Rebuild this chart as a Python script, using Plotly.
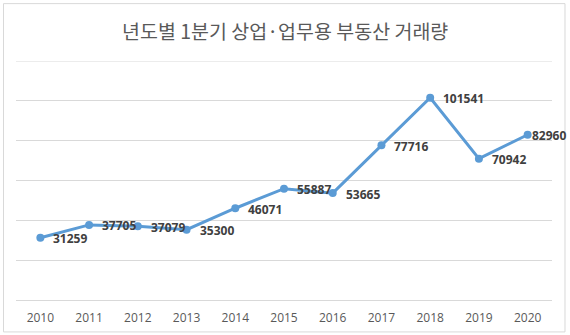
import plotly.graph_objects as go

years = ["2010", "2011", "2012", "2013", "2014", "2015", "2016", "2017", "2018", "2019", "2020"]
volumes = [31259, 37705, 37079, 35300, 46071, 55887, 53665, 77716, 101541, 70942, 82960]
title_text = "년도별 1분기 상업·업무용 부동산 거래량"

W, H = 570, 335
L, R, T, B = 15.5, 18, 60.5, 35
pw, ph = W - L - R, H - T - B
Y_MAX, Y_STEP = 120000, 20000

def px_x(px):
    return (px - L) / pw

def px_y(py):
    return (H - B - py) / ph

color = "#5B9BD5"
grid = "#d9d9d9"
fig = go.Figure()
fig.add_trace(go.Scatter(
    x=list(range(len(years))), y=volumes, mode="lines+markers",
    line=dict(color=color, width=3),
    marker=dict(color=color, size=8),
    hoverinfo="skip", cliponaxis=False,
))

n = len(years)
for i, (yr, v) in enumerate(zip(years, volumes)):
    last = i == n - 1
    fig.add_annotation(
        x=i, y=v, xref="x", yref="y", text=str(v), showarrow=False,
        xanchor="left", yanchor="middle", xshift=2 if last else 11, yshift=-1,
        font=dict(family="Open Sans", size=12, color="#404040", weight="bold"),
    )

fig.add_annotation(
    x=px_x(285), y=px_y(30), xref="paper", yref="paper", text=title_text,
    showarrow=False, xanchor="center", yanchor="middle",
    font=dict(family="Noto Sans CJK KR", size=19.5, color="#595959"),
)

fig.add_shape(type="rect", xref="paper", yref="paper",
              x0=px_x(3), x1=px_x(565), y0=px_y(332), y1=px_y(3),
              line=dict(color=grid, width=1), fillcolor="rgba(0,0,0,0)", layer="below")
# top gridline at the axis maximum (plotly omits the gridline at the range edge)
fig.add_shape(type="line", xref="paper", yref="y", x0=0, x1=1, y0=Y_MAX, y1=Y_MAX,
              line=dict(color=grid, width=1), layer="below")

fig.update_layout(
    width=W, height=H, margin=dict(l=L, r=R, t=T, b=B, autoexpand=False),
    paper_bgcolor="white", plot_bgcolor="white", showlegend=False,
)
fig.update_xaxes(
    range=[-0.5, n - 0.5], tickmode="array", tickvals=list(range(n)), ticktext=years,
    showgrid=False, zeroline=False, showline=False, ticks="",
    tickfont=dict(family="Open Sans", size=12, color="#595959"), ticklabelstandoff=9,
)
fig.update_yaxes(
    range=[0, Y_MAX], dtick=Y_STEP, showgrid=True, gridcolor=grid, gridwidth=1,
    zeroline=True, zerolinecolor=grid, zerolinewidth=1,
    showticklabels=False, ticks="", showline=False,
)

fig.write_html("out.html")
